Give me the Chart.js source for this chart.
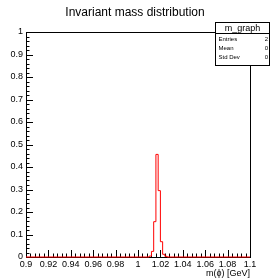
<!DOCTYPE html>
<html>
<head>
<meta charset="utf-8">
<script src="https://cdn.jsdelivr.net/npm/chart.js@4.4.1/dist/chart.umd.min.js"></script>
<style>
  html, body { margin: 0; padding: 0; background: #fff; }
  canvas { display: block; }
</style>
</head>
<body>
<canvas id="massChart" width="270" height="278"></canvas>
<script>
// histogram: bin edges (GeV) and bin contents
var binEdges = [0.9, 1.010, 1.012, 1.014, 1.016, 1.018, 1.020, 1.022, 1.024, 1.026, 1.1];
var binContents = [0, 0.004, 0.025, 0.157, 0.456, 0.295, 0.068, 0.012, 0.003, 0];

// axis labels
var xTickLabels = ["0.9", "0.92", "0.94", "0.96", "0.98", "1", "1.02", "1.04", "1.06", "1.08", "1.1"];
var yTickLabels = ["0", "0.1", "0.2", "0.3", "0.4", "0.5", "0.6", "0.7", "0.8", "0.9", "1"];

// stats box
var statsTitle = "m_graph";
var statNames = ["Entries", "Mean", "Std Dev"];
var statValues = ["2", "0", "0"];

var chartTitle = "Invariant mass distribution";
var xTitle = "m(\u03D5) [GeV]";

var FONT = "'Liberation Sans', Arial, sans-serif";

// histogram as step points at the lower edge of every bin
var points = binEdges.map(function(e, i) {
    return { x: e, y: i < binContents.length ? binContents[i] : 0 };
});

// frame, ticks and labels drawn the ROOT way (ticks pointing inside)
var rootAxes = {
    id: "rootAxes",
    beforeDatasetsDraw: function(chart) {
        var ctx = chart.ctx, a = chart.chartArea;
        var xs = chart.scales.x, ys = chart.scales.y;
        ctx.save();
        ctx.strokeStyle = "#000";
        ctx.lineWidth = 1;
        ctx.strokeRect(Math.round(a.left) + 0.5, Math.round(a.top) + 0.5,
            Math.round(a.right - a.left), Math.round(a.bottom - a.top));

        ctx.beginPath();
        // x ticks
        var nx = xTickLabels.length - 1;
        for (var i = 0; i <= nx * 5; i++) {
            var v = parseFloat(xTickLabels[0]) + (parseFloat(xTickLabels[nx]) - parseFloat(xTickLabels[0])) * i / (nx * 5);
            var px = Math.round(xs.getPixelForValue(v)) + 0.5;
            var len = (i % 5 === 0) ? 7 : 3.5;
            ctx.moveTo(px, a.bottom);
            ctx.lineTo(px, a.bottom - len);
        }
        // y ticks
        var ny = yTickLabels.length - 1;
        for (var j = 0; j <= ny * 5; j++) {
            var w = j / (ny * 5);
            var py = Math.round(ys.getPixelForValue(w)) + 0.5;
            var ylen = (j % 5 === 0) ? 7 : 3.5;
            ctx.moveTo(a.left, py);
            ctx.lineTo(a.left + ylen, py);
        }
        ctx.stroke();

        ctx.fillStyle = "#000";
        ctx.font = "9px " + FONT;
        ctx.textAlign = "center";
        ctx.textBaseline = "top";
        xTickLabels.forEach(function(t) {
            ctx.fillText(t, xs.getPixelForValue(parseFloat(t)), a.bottom + 3);
        });
        ctx.textAlign = "right";
        ctx.textBaseline = "middle";
        yTickLabels.forEach(function(t) {
            ctx.fillText(t, a.left - 3, ys.getPixelForValue(parseFloat(t)));
        });

        // axis title
        ctx.textAlign = "right";
        ctx.textBaseline = "top";
        ctx.fillText(xTitle, a.right, a.bottom + 12);

        // chart title
        ctx.font = "12px " + FONT;
        ctx.textAlign = "center";
        ctx.textBaseline = "middle";
        ctx.fillText(chartTitle, 135, 13);
        ctx.restore();
    },
    afterDraw: function(chart) {
        var ctx = chart.ctx;
        var bx = 215.5, by = 22.5, bw = 54, bh = 43, rowH = 11;
        ctx.save();
        ctx.fillStyle = "#fff";
        ctx.fillRect(bx, by, bw, bh);
        ctx.strokeStyle = "#000";
        ctx.lineWidth = 1;
        ctx.strokeRect(bx, by, bw, bh);
        ctx.beginPath();
        ctx.moveTo(bx, by + rowH);
        ctx.lineTo(bx + bw, by + rowH);
        ctx.stroke();

        ctx.fillStyle = "#000";
        ctx.font = "9px " + FONT;
        ctx.textAlign = "center";
        ctx.textBaseline = "middle";
        ctx.fillText(statsTitle, bx + bw / 2, by + rowH / 2 + 0.5);

        ctx.font = "6px " + FONT;
        statNames.forEach(function(n, k) {
            var y = by + rowH + 6 + k * 9;
            ctx.textAlign = "left";
            ctx.fillText(n, bx + 3, y);
            ctx.textAlign = "right";
            ctx.fillText(statValues[k], bx + bw - 1.5, y);
        });
        ctx.restore();
    }
};

var ctx = document.getElementById("massChart");

var chart = new Chart(ctx, {
    type: "line",
    data: {
        datasets: [{
            label: statsTitle,
            data: points,
            stepped: "before",
            borderColor: "#ff0000",
            borderWidth: 1,
            fill: false,
            pointRadius: 0,
            clip: false
        }]
    },
    options: {
        responsive: false,
        animation: false,
        layout: { padding: { left: 26, top: 32, right: 20, bottom: 21 } },
        plugins: {
            legend: { display: false },
            tooltip: { enabled: false },
            title: { display: false }
        },
        scales: {
            x: { type: "linear", min: 0.9, max: 1.1, display: false },
            y: { type: "linear", min: 0, max: 1, display: false }
        }
    },
    plugins: [rootAxes]
});
</script>
</body>
</html>
